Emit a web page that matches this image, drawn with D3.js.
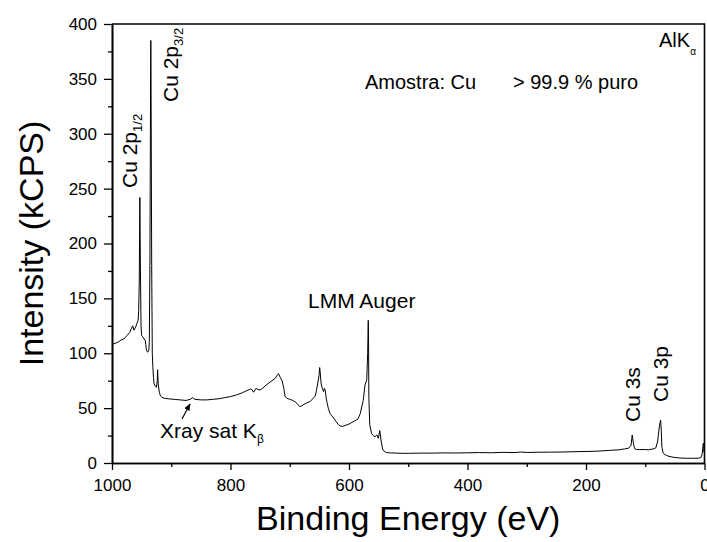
<!DOCTYPE html>
<html>
<head>
<meta charset="utf-8">
<script src="https://cdn.jsdelivr.net/npm/d3@7"></script>
<style>
  body { margin: 0; background: #fff; }
  svg text { font-family: "Liberation Sans", Arial, sans-serif; fill: #000; }
</style>
</head>
<body>
<svg id="chart" width="707" height="542"></svg>
<script>
// XPS survey spectrum, Cu sample
const energy = [
  1000, 995, 990, 985, 980, 975, 970, 967, 965, 963, 960, 958, 956, 955, 954, 953, 952, 951, 950, 948,
  946, 944, 943, 942, 940, 938, 937, 936, 935, 934.5, 934, 933, 932, 931, 930, 929, 927, 925, 923.5, 923,
  922, 920, 918, 916, 912, 905, 895, 885, 875, 868, 864, 860, 850, 840, 830, 820, 810, 800, 790, 780,
  772, 766, 764, 761, 757, 754, 750, 745, 740, 735, 730, 725, 721, 719, 716, 713, 710, 708, 705, 700,
  695, 690, 686, 683, 680, 676, 672, 666, 661, 657, 655, 653, 650.5, 649.5, 648.5, 647, 645, 643, 641.5, 640,
  638.5, 637, 635, 632, 629, 626, 622, 618, 614, 610, 605, 600, 595, 590, 585, 581, 576, 573, 570, 568.5,
  567.5, 567, 566.5, 565, 562, 559, 556, 553, 550.5, 548, 546, 543, 538, 535, 530, 520, 510, 500, 480, 460,
  440, 420, 400, 380, 360, 340, 320, 310, 300, 280, 260, 240, 220, 200, 180, 160, 145, 135, 128, 124,
  122, 120, 118, 115, 110, 100, 95, 90, 85, 82, 79, 77, 75, 74, 73, 72, 70, 67, 64, 60,
  55, 50, 40, 30, 20, 10, 6, 4, 3, 2, 1.5, 1
];
const intensity = [
  108, 109, 110, 112, 113, 116, 119, 123, 125, 121, 124, 127, 130, 138, 165, 242, 175, 125, 116, 115,
  113, 112, 108, 103, 101, 102, 110, 180, 330, 385, 330, 180, 100, 87, 78, 72, 70, 69, 75, 85,
  72, 64, 61, 60, 59, 58.5, 58, 57.5, 57, 58, 59.5, 58, 57.5, 57.5, 58, 58.5, 59.5, 60.5, 62, 64,
  66, 67.5, 67, 64.5, 68, 67, 66.5, 68.5, 71, 73, 75, 77, 80, 81.5, 78, 75, 68, 61, 59, 58,
  57, 55.5, 53, 51.5, 52, 53.5, 54.5, 56, 58.5, 61, 66, 72, 80, 87, 82, 72, 68, 65, 68, 66,
  59, 55, 50, 45, 43, 41, 38, 35, 33.5, 33.5, 34.5, 35.5, 37, 38.5, 40, 45, 57, 71, 76, 100,
  130, 110, 60, 35, 27, 25, 24, 25.5, 22.5, 29.5, 21, 12, 9.8, 9.4, 9.2, 9, 8.8, 8.8, 9, 9,
  9.2, 9.1, 9.3, 9.5, 9.3, 9.7, 9.5, 10, 9.6, 9.8, 9.9, 10, 10.3, 10.5, 10.8, 11.5, 12, 12.8, 13.5, 16,
  25.5, 18, 13, 12.3, 12.2, 12.3, 12, 12.5, 13, 14, 20, 30, 37, 39, 30, 15, 9.5, 7.5, 7, 6,
  5.5, 5, 4.5, 4.3, 4.3, 4.4, 5, 8, 13, 18, 16, 10
];
const xMajorTicks = [1000, 800, 600, 400, 200, 0];
const xMinorTicks = [900, 700, 500, 300, 100];
const yMajorTicks = [0, 50, 100, 150, 200, 250, 300, 350, 400];
const yMinorTicks = [25, 75, 125, 175, 225, 275, 325, 375];

const svg = d3.select("#chart");
const plotL = 112, plotR = 704.5, plotT = 24, plotB = 463;

const x = d3.scaleLinear().domain([1000, 0]).range([plotL, plotR]);
const y = d3.scaleLinear().domain([0, 400]).range([plotB, plotT]);

svg.append("rect").attr("width", 707).attr("height", 542).attr("fill", "#fff");

// minor ticks first, then major ticks with labels
svg.append("g")
    .attr("transform", "translate(0," + plotB + ")")
    .call(d3.axisBottom(x).tickValues(xMinorTicks).tickSize(4).tickSizeOuter(0).tickFormat(""));
svg.append("g")
    .attr("transform", "translate(" + plotL + ",0)")
    .call(d3.axisLeft(y).tickValues(yMinorTicks).tickSize(4).tickSizeOuter(0).tickFormat(""));

svg.append("g")
    .attr("transform", "translate(0," + plotB + ")")
    .call(d3.axisBottom(x).tickValues(xMajorTicks).tickSize(7).tickSizeOuter(0).tickPadding(9).tickFormat(d3.format("d")));
svg.append("g")
    .attr("transform", "translate(" + plotL + ",0)")
    .call(d3.axisLeft(y).tickValues(yMajorTicks).tickSize(8).tickSizeOuter(0).tickPadding(7));

svg.selectAll(".tick line").attr("stroke", "#000").attr("stroke-width", 1.3);
svg.selectAll(".domain").attr("stroke", "#000").attr("stroke-width", 1.6);
svg.selectAll(".tick text").attr("font-size", 17).attr("font-family", "Liberation Sans, Arial, sans-serif");

// frame top / right
svg.append("path")
    .attr("d", "M" + plotL + "," + plotT + "H" + plotR + "V" + plotB)
    .attr("fill", "none").attr("stroke", "#000").attr("stroke-width", 1.6);

// spectrum
const pts = energy.map((e, i) => [e, intensity[i]]);
svg.append("path")
    .datum(pts)
    .attr("fill", "none")
    .attr("stroke", "#000")
    .attr("stroke-width", 1)
    .attr("stroke-linejoin", "round")
    .attr("d", d3.line().x(d => x(d[0])).y(d => y(d[1])));

// axis titles
svg.append("text")
    .attr("x", (plotL + plotR) / 2).attr("y", 530)
    .attr("text-anchor", "middle").attr("font-size", 34)
    .text("Binding Energy (eV)");
svg.append("text")
    .attr("transform", "translate(43," + (plotT + plotB) / 2 + ") rotate(-90)")
    .attr("text-anchor", "middle").attr("font-size", 34)
    .text("Intensity (kCPS)");

// annotations
const fs = 21;
function rotLabel(px, py, main, sub) {
  const t = svg.append("text")
      .attr("transform", "translate(" + px + "," + py + ") rotate(-90)")
      .attr("font-size", fs);
  t.append("tspan").text(main);
  if (sub) t.append("tspan").attr("font-size", 13).attr("dy", 5).text(sub);
}
rotLabel(137, 188, "Cu 2p", "1/2");
rotLabel(178, 102, "Cu 2p", "3/2");
rotLabel(640, 422, "Cu 3s");
rotLabel(668, 402, "Cu 3p");

svg.append("text").attr("x", 308).attr("y", 308).attr("font-size", fs).text("LMM Auger");
svg.append("text").attr("x", 365).attr("y", 89).attr("font-size", 20).text("Amostra: Cu");
svg.append("text").attr("x", 513).attr("y", 89).attr("font-size", 20).text("> 99.9 % puro");

const alk = svg.append("text").attr("x", 659).attr("y", 47).attr("font-size", 20);
alk.append("tspan").text("AlK");
alk.append("tspan").attr("font-size", 10).attr("dy", 8).text("α");

const xr = svg.append("text").attr("x", 160).attr("y", 438).attr("font-size", fs);
xr.append("tspan").text("Xray sat K");
xr.append("tspan").attr("font-size", 12).attr("dy", 5).text("β");

// arrow to the satellite
svg.append("defs").append("marker")
    .attr("id", "ah").attr("viewBox", "0 0 10 10")
    .attr("refX", 9).attr("refY", 5)
    .attr("markerWidth", 6).attr("markerHeight", 6)
    .attr("orient", "auto")
    .append("path").attr("d", "M0,1L10,5L0,9Z").attr("fill", "#000");
svg.append("line")
    .attr("x1", 182).attr("y1", 419).attr("x2", 190).attr("y2", 404)
    .attr("stroke", "#000").attr("stroke-width", 1.2)
    .attr("marker-end", "url(#ah)");
</script>
</body>
</html>
